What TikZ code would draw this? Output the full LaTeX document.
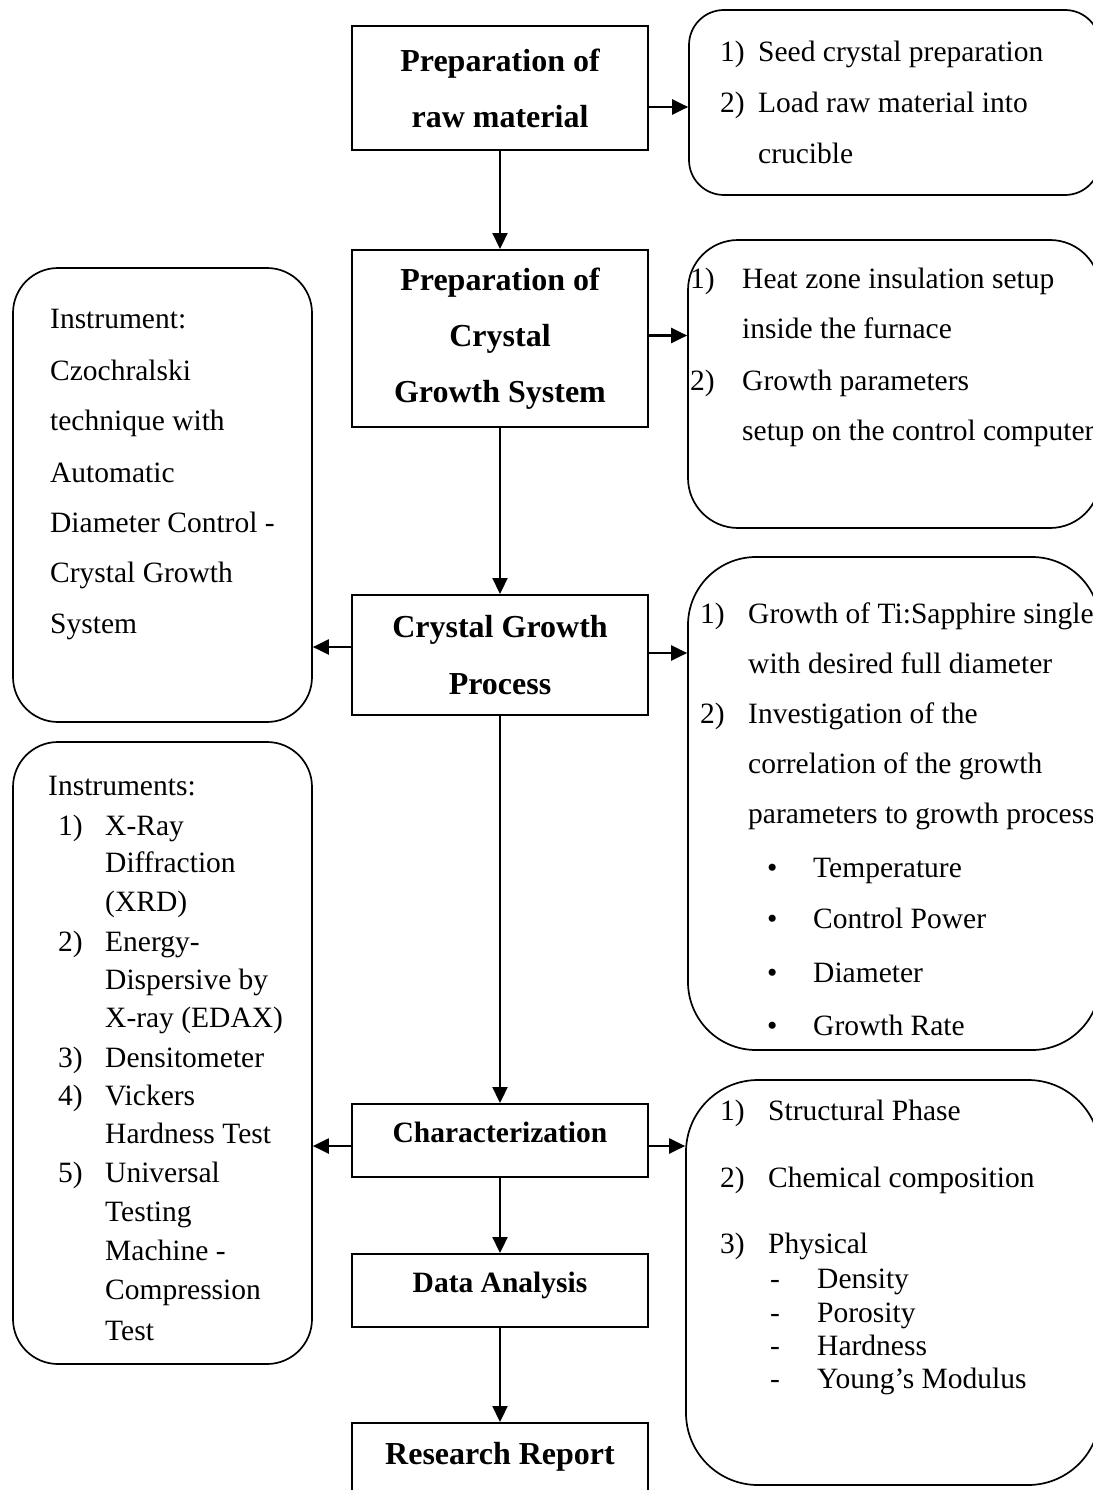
\documentclass[tikz,border=0pt]{standalone}
\usepackage{fontspec}
\setmainfont{Liberation Serif}
\usetikzlibrary{arrows.meta,calc}
\newcommand\putline[4]{\node[linetxt] (#1) at (#2,#3) {#4};}
\begin{document}
\begin{tikzpicture}[x=1pt,y=-1pt,
  linetxt/.style={anchor=base west,inner sep=0pt,font=\fontsize{29.5}{40}\selectfont},
  stepbox/.style={draw,line width=2pt,minimum width=296pt,align=center,inner sep=0pt,
     font=\fontsize{32}{56}\selectfont\bfseries},
  smallstep/.style={stepbox,font=\fontsize{29.5}{40}\selectfont\bfseries},
  roundbox/.style={draw,line width=1.7pt,inner sep=0pt},
  arr/.style={line width=2.2pt,-{Triangle[length=16pt,width=15pt]}}]
\useasboundingbox[fill=white] (0,0) rectangle (1092,1490);

% main column
\node[stepbox,minimum height=124pt] (b1) at (500,88) {Preparation of\\raw material};
\node[stepbox,minimum height=177pt] (b2) at (500,338.5) {Preparation of\\Crystal\\Growth System};
\node[stepbox,minimum height=120pt] (b3) at (500,655) {Crystal Growth\\[1pt]Process};
\node[smallstep,minimum height=73pt,text depth=16pt] (b4) at (500,1140.5) {Characterization};
\node[smallstep,minimum height=73pt,text depth=16pt] (b5) at (500,1290.5) {Data Analysis};
\node[stepbox,anchor=north,minimum height=100pt,text height=41pt,text depth=59pt] (b6) at (500,1422) {Research Report};

% side boxes
\node[roundbox,rounded corners=35pt,minimum width=411pt,minimum height=185pt] (r1) at (894.5,102.5) {};
\node[roundbox,rounded corners=50pt,minimum width=412pt,minimum height=288pt] (r2) at (894,384) {};
\node[roundbox,rounded corners=68pt,minimum width=412pt,minimum height=493pt] (r3) at (894,803.5) {};
\node[roundbox,rounded corners=72pt,minimum width=414pt,minimum height=405pt] (r4) at (893,1282.5) {};
\node[roundbox,rounded corners=45pt,minimum width=299pt,minimum height=454pt] (l1) at (162.5,495) {};
\node[roundbox,rounded corners=45pt,minimum width=299pt,minimum height=622pt] (l2) at (162.5,1053) {};

% vertical arrows
\draw[arr] (b1.south) -- (b2.north);
\draw[arr] (b2.south) -- (b3.north);
\draw[arr] (b3.south) -- (b4.north);
\draw[arr] (b4.south) -- (b5.north);
\draw[arr] (b5.south) -- (b6.north);

% side arrows
\coordinate (s1) at ([yshift=-19pt]b1.east);
\draw[arr] (s1) -- (s1 -| r1.west);
\coordinate (s2) at ([yshift=3pt]b2.east);
\draw[arr] (s2) -- (s2 -| r2.west);
\coordinate (s3) at ([yshift=2pt]b3.east);
\draw[arr] (s3) -- (s3 -| r3.west);
\coordinate (s4) at ([yshift=8pt]b3.west);
\draw[arr] (s4) -- (s4 -| l1.east);
\coordinate (s5) at ([yshift=-5.5pt]b4.east);
\draw[arr] (s5) -- (s5 -| r4.west);
\coordinate (s6) at ([yshift=-5.5pt]b4.west);
\draw[arr] (s6) -- (s6 -| l2.east);

% R1 text
\putline{r1n1}{720}{62}{1)}
\putline{r1t1}{758}{62}{Seed crystal preparation}
\putline{r1n2}{720}{113}{2)}
\putline{r1t2}{758}{113}{Load raw material into}
\putline{r1t3}{758}{164}{crucible}

% R2 text
\putline{r2n1}{690}{288}{1)}
\putline{r2t1}{742}{288}{Heat zone insulation setup}
\putline{r2t2}{742}{338}{inside the furnace}
\putline{r2n2}{690}{390}{2)}
\putline{r2t3}{742}{390}{Growth parameters}
\putline{r2t4}{742}{440}{setup on the control computer}

% R3 text
\putline{r3n1}{700}{623}{1)}
\putline{r3t1}{748}{623}{Growth of Ti:Sapphire single}
\putline{r3t2}{748}{673}{with desired full diameter}
\putline{r3n2}{700}{723}{2)}
\putline{r3t3}{748}{723}{Investigation of the}
\putline{r3t4}{748}{773}{correlation of the growth}
\putline{r3t5}{748}{823}{parameters to growth process}
\putline{r3b1}{767}{877}{\textbullet}
\putline{r3t6}{813}{877}{Temperature}
\putline{r3b2}{767}{928}{\textbullet}
\putline{r3t7}{813}{928}{Control Power}
\putline{r3b3}{767}{982}{\textbullet}
\putline{r3t8}{813}{982}{Diameter}
\putline{r3b4}{767}{1035}{\textbullet}
\putline{r3t9}{813}{1035}{Growth Rate}

% R4 text
\putline{r4n1}{720}{1120}{1)}
\putline{r4t1}{768}{1120}{Structural Phase}
\putline{r4n2}{720}{1187}{2)}
\putline{r4t2}{768}{1187}{Chemical composition}
\putline{r4n3}{720}{1253}{3)}
\putline{r4t3}{768}{1253}{Physical}
\putline{r4d1}{770}{1288}{-}
\putline{r4t4}{817}{1288}{Density}
\putline{r4d2}{770}{1322}{-}
\putline{r4t5}{817}{1322}{Porosity}
\putline{r4d3}{770}{1355}{-}
\putline{r4t6}{817}{1355}{Hardness}
\putline{r4d4}{770}{1388}{-}
\putline{r4t7}{817}{1388}{Young’s Modulus}

% L1 text
\putline{l1t1}{50}{328}{Instrument:}
\putline{l1t2}{50}{380}{Czochralski}
\putline{l1t3}{50}{430}{technique with}
\putline{l1t4}{50}{482}{Automatic}
\putline{l1t5}{50}{532}{Diameter Control -}
\putline{l1t6}{50}{582}{Crystal Growth}
\putline{l1t7}{50}{633}{System}

% L2 text
\putline{l2t0}{48}{795}{Instruments:}
\putline{l2n1}{58}{835}{1)}
\putline{l2t1}{105}{835}{X-Ray}
\putline{l2t2}{105}{872}{Diffraction}
\putline{l2t3}{105}{911}{(XRD)}
\putline{l2n2}{58}{951}{2)}
\putline{l2t4}{105}{951}{Energy-}
\putline{l2t5}{105}{989}{Dispersive by}
\putline{l2t6}{105}{1027}{X-ray (EDAX)}
\putline{l2n3}{58}{1067}{3)}
\putline{l2t7}{105}{1067}{Densitometer}
\putline{l2n4}{58}{1105}{4)}
\putline{l2t8}{105}{1105}{Vickers}
\putline{l2t9}{105}{1143}{Hardness Test}
\putline{l2n5}{58}{1182}{5)}
\putline{l2t10}{105}{1182}{Universal}
\putline{l2t11}{105}{1221}{Testing}
\putline{l2t12}{105}{1260}{Machine -}
\putline{l2t13}{105}{1299}{Compression}
\putline{l2t14}{105}{1340}{Test}
\end{tikzpicture}
\end{document}
